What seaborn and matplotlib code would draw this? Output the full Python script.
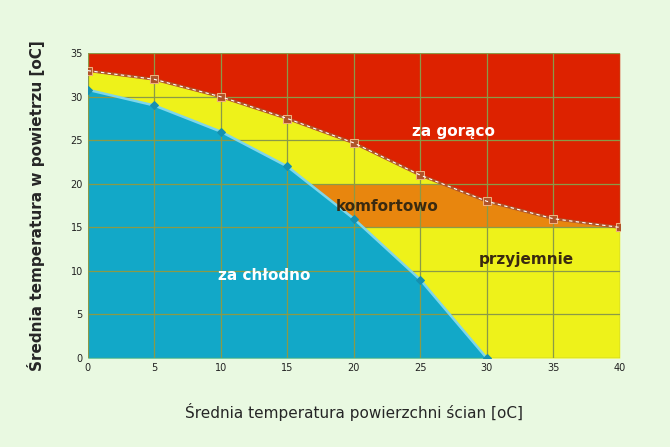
import numpy as np
import matplotlib
matplotlib.use("Agg")
import matplotlib.pyplot as plt
import seaborn as sns

# dane
x_gorna = [0, 5, 10, 15, 20, 25, 30, 35, 40]
y_gorna = [33, 32, 30, 27.5, 24.7, 21, 18, 16, 15]
x_dolna = [0, 5, 10, 15, 20, 25, 30]
y_dolna = [30.8, 29, 26, 22, 16, 9, 0]
komfort_min = 15
komfort_max = 20

sns.set_theme(style="white")
plt.rcParams['font.family'] = ['DejaVu Sans']
bg = "#e9f9e1"

fig = plt.figure(figsize=(6.7, 4.47), dpi=100, facecolor=bg)
ax = fig.add_axes([0.131, 0.199, 0.794, 0.682])
ax.set_facecolor(bg)

xs = np.linspace(0, 40, 801)
gorna = np.interp(xs, x_gorna, y_gorna)
dolna = np.interp(xs, x_dolna, y_dolna, right=0)

ax.fill_between(xs, gorna, 35, color="#dd2200", lw=0)
ax.fill_between(xs, 0, gorna, color="#eef21a", lw=0)
lo = np.maximum(dolna, komfort_min)
hi = np.minimum(gorna, komfort_max)
ax.fill_between(xs, lo, hi, where=hi > lo, color="#e8860e", lw=0)
xd = xs[xs <= 30]
ax.fill_between(xd, 0, dolna[xs <= 30], color="#12a8c8", lw=0)

for v in range(0, 41, 5):
    ax.axvline(v, color="#8a9a48", lw=0.9, zorder=1.5)
for v in range(0, 36, 5):
    ax.axhline(v, color="#8a9a48", lw=0.9, zorder=1.5)

sns.lineplot(x=x_gorna, y=y_gorna, ax=ax, color="#b0542a", lw=2, marker="s",
             markersize=6, markeredgecolor="#f0b080", zorder=3)
ax.plot(x_gorna, y_gorna, color="white", lw=0.8, ls=(0, (3, 3)), zorder=3.5)
sns.lineplot(x=x_dolna, y=y_dolna, ax=ax, color="#7fd6ea", lw=1.8, marker="D",
             markersize=4.5, markerfacecolor="#1590b0", markeredgecolor="#1590b0", zorder=3)

ax.text(27.5, 26, "za gorąco", color="white", fontsize=11, fontweight="bold", ha="center", va="center")
ax.text(22.5, 17.4, "komfortowo", color="#3a2a10", fontsize=11, fontweight="bold", ha="center", va="center")
ax.text(33, 11.3, "przyjemnie", color="#3a2a10", fontsize=11, fontweight="bold", ha="center", va="center")
ax.text(13.3, 9.5, "za chłodno", color="white", fontsize=11, fontweight="bold", ha="center", va="center")

ax.set_xlim(0, 40)
ax.set_ylim(0, 35)
ax.set_xticks(range(0, 41, 5))
ax.set_yticks(range(0, 36, 5))
ax.tick_params(labelsize=7, colors="#222222", length=0)
for s in ax.spines.values():
    s.set_visible(False)
ax.set_xlabel("Średnia temperatura powierzchni ścian [oC]", fontsize=11, labelpad=22)
ax.set_ylabel("Średnia temperatura w powietrzu [oC]", fontsize=11, fontweight="bold", labelpad=18)

fig.savefig("out.png", dpi=100, facecolor=bg)
